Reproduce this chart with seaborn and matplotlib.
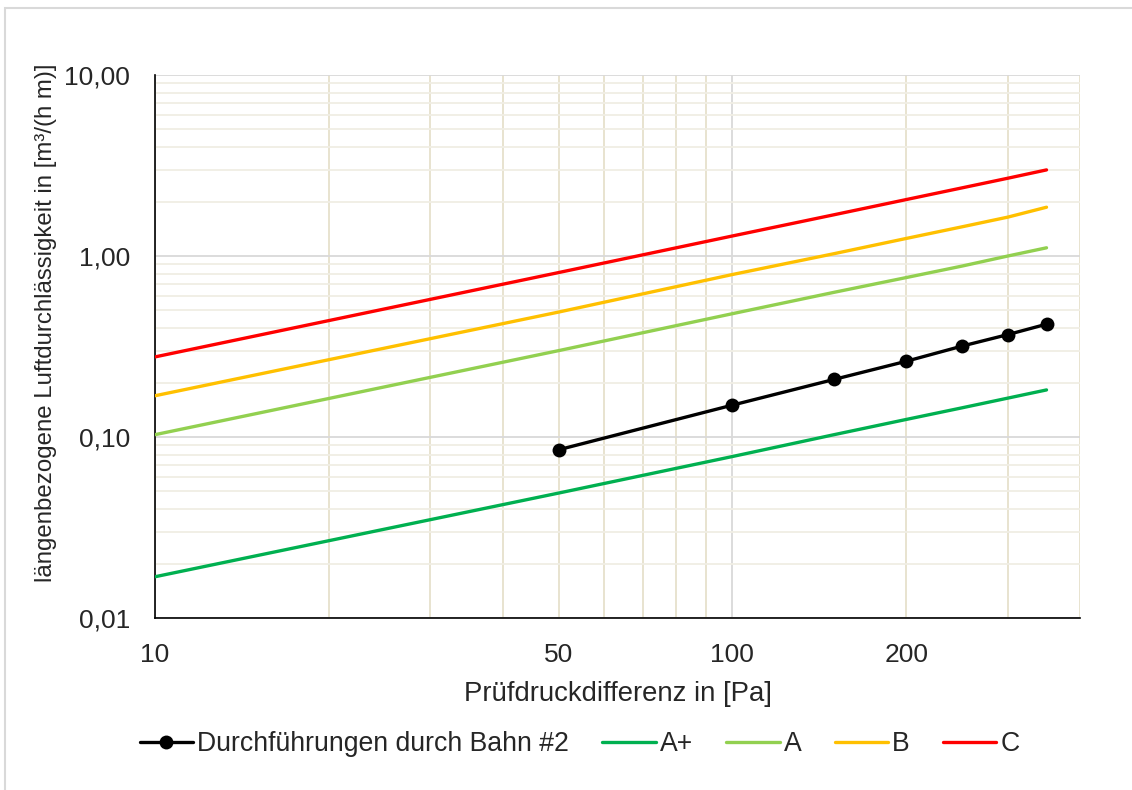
import pandas as pd
import seaborn as sns
import matplotlib.pyplot as plt
from matplotlib.ticker import LogLocator, FuncFormatter
from matplotlib.patches import Rectangle

# ----------------------
# Daten
# ----------------------
druck_mess = [50, 100, 150, 200, 250, 300, 350]
luft_mess = [0.085, 0.150, 0.208, 0.262, 0.318, 0.368, 0.420]

druck_klasse = [10, 50, 100, 150, 200, 250, 300, 350]
klasse_a_plus = [0.0169, 0.049, 0.078, 0.103, 0.125, 0.145, 0.164, 0.182]
klasse_a = [0.103, 0.30, 0.48, 0.63, 0.76, 0.88, 1.00, 1.11]
klasse_b = [0.169, 0.49, 0.79, 1.03, 1.25, 1.45, 1.64, 1.86]
klasse_c = [0.277, 0.81, 1.29, 1.69, 2.05, 2.38, 2.69, 2.99]

klassen = [("A+", klasse_a_plus, "#00b050"),
           ("A", klasse_a, "#92d050"),
           ("B", klasse_b, "#ffc000"),
           ("C", klasse_c, "#ff0000")]

# ----------------------
# Plot
# ----------------------
sns.set_style("white")
plt.rcParams['font.family'] = ['Liberation Sans', 'DejaVu Sans']

fig = plt.figure(figsize=(11.32, 7.9), dpi=100)
ax = fig.add_axes([155/1132, 1 - 618/790, (1080-155)/1132, (618-75)/790])

df_mess = pd.DataFrame({'Druck': druck_mess, 'Luft': luft_mess})
sns.lineplot(data=df_mess, x='Druck', y='Luft', ax=ax, color='black', lw=2.4,
             marker='o', markersize=10, markeredgewidth=0,
             label='Durchführungen durch Bahn #2', zorder=5)

for name, werte, farbe in klassen:
    df_k = pd.DataFrame({'Druck': druck_klasse, 'Luft': werte})
    sns.lineplot(data=df_k, x='Druck', y='Luft', ax=ax, color=farbe, lw=2.4,
                 label=name, zorder=4)

ax.set_xscale('log')
ax.set_yscale('log')
ax.set_xlim(10, 400)
ax.set_ylim(0.01, 10)

ax.xaxis.set_minor_locator(LogLocator(base=10, subs=range(2, 10)))
ax.yaxis.set_minor_locator(LogLocator(base=10, subs=range(2, 10)))
ax.xaxis.set_major_formatter(FuncFormatter(lambda v, p: f"{v:.0f}"))
ax.xaxis.set_minor_formatter(FuncFormatter(
    lambda v, p: f"{v:.0f}" if round(v) in (50, 200) else ""))
ax.yaxis.set_major_formatter(FuncFormatter(lambda v, p: f"{v:.2f}".replace('.', ',')))
ax.yaxis.set_minor_formatter(FuncFormatter(lambda v, p: ""))

ax.tick_params(axis='both', which='both', length=0, labelsize=19)
ax.tick_params(axis='y', which='both', pad=18)
ax.tick_params(axis='x', which='both', pad=18)

ax.grid(which='major', axis='both', color='#d9d9d9', lw=1.3)
ax.grid(which='minor', axis='x', color='#e6e1cc', lw=1.3)
ax.grid(which='minor', axis='y', color='#f0eee4', lw=1.3)
ax.set_axisbelow(True)

for s in ['top', 'right']:
    ax.spines[s].set_visible(False)
for s in ['left', 'bottom']:
    ax.spines[s].set_color('black')
    ax.spines[s].set_linewidth(1.2)

ax.set_xlabel("Prüfdruckdifferenz in [Pa]", fontsize=19.8, labelpad=10)
ax.set_ylabel("längenbezogene Luftdurchlässigkeit in [m³/(h m)]", fontsize=17.3)
ax.yaxis.set_label_coords(-0.106, 0.544)

ax.legend(loc='center', bbox_to_anchor=(0.512, 1 - 744/790), bbox_transform=fig.transFigure,
          ncol=5, frameon=False, fontsize=19.2, handlelength=2.0, handletextpad=0.15,
          columnspacing=1.25)

# Rahmen um die Grafik
fig.patches.append(Rectangle((5/1132, -0.05), 1.1, 1 - 8/790 + 0.05, transform=fig.transFigure,
                             fill=False, edgecolor='#d9d9d9', lw=1.5))

fig.savefig("out.png", dpi=100)
